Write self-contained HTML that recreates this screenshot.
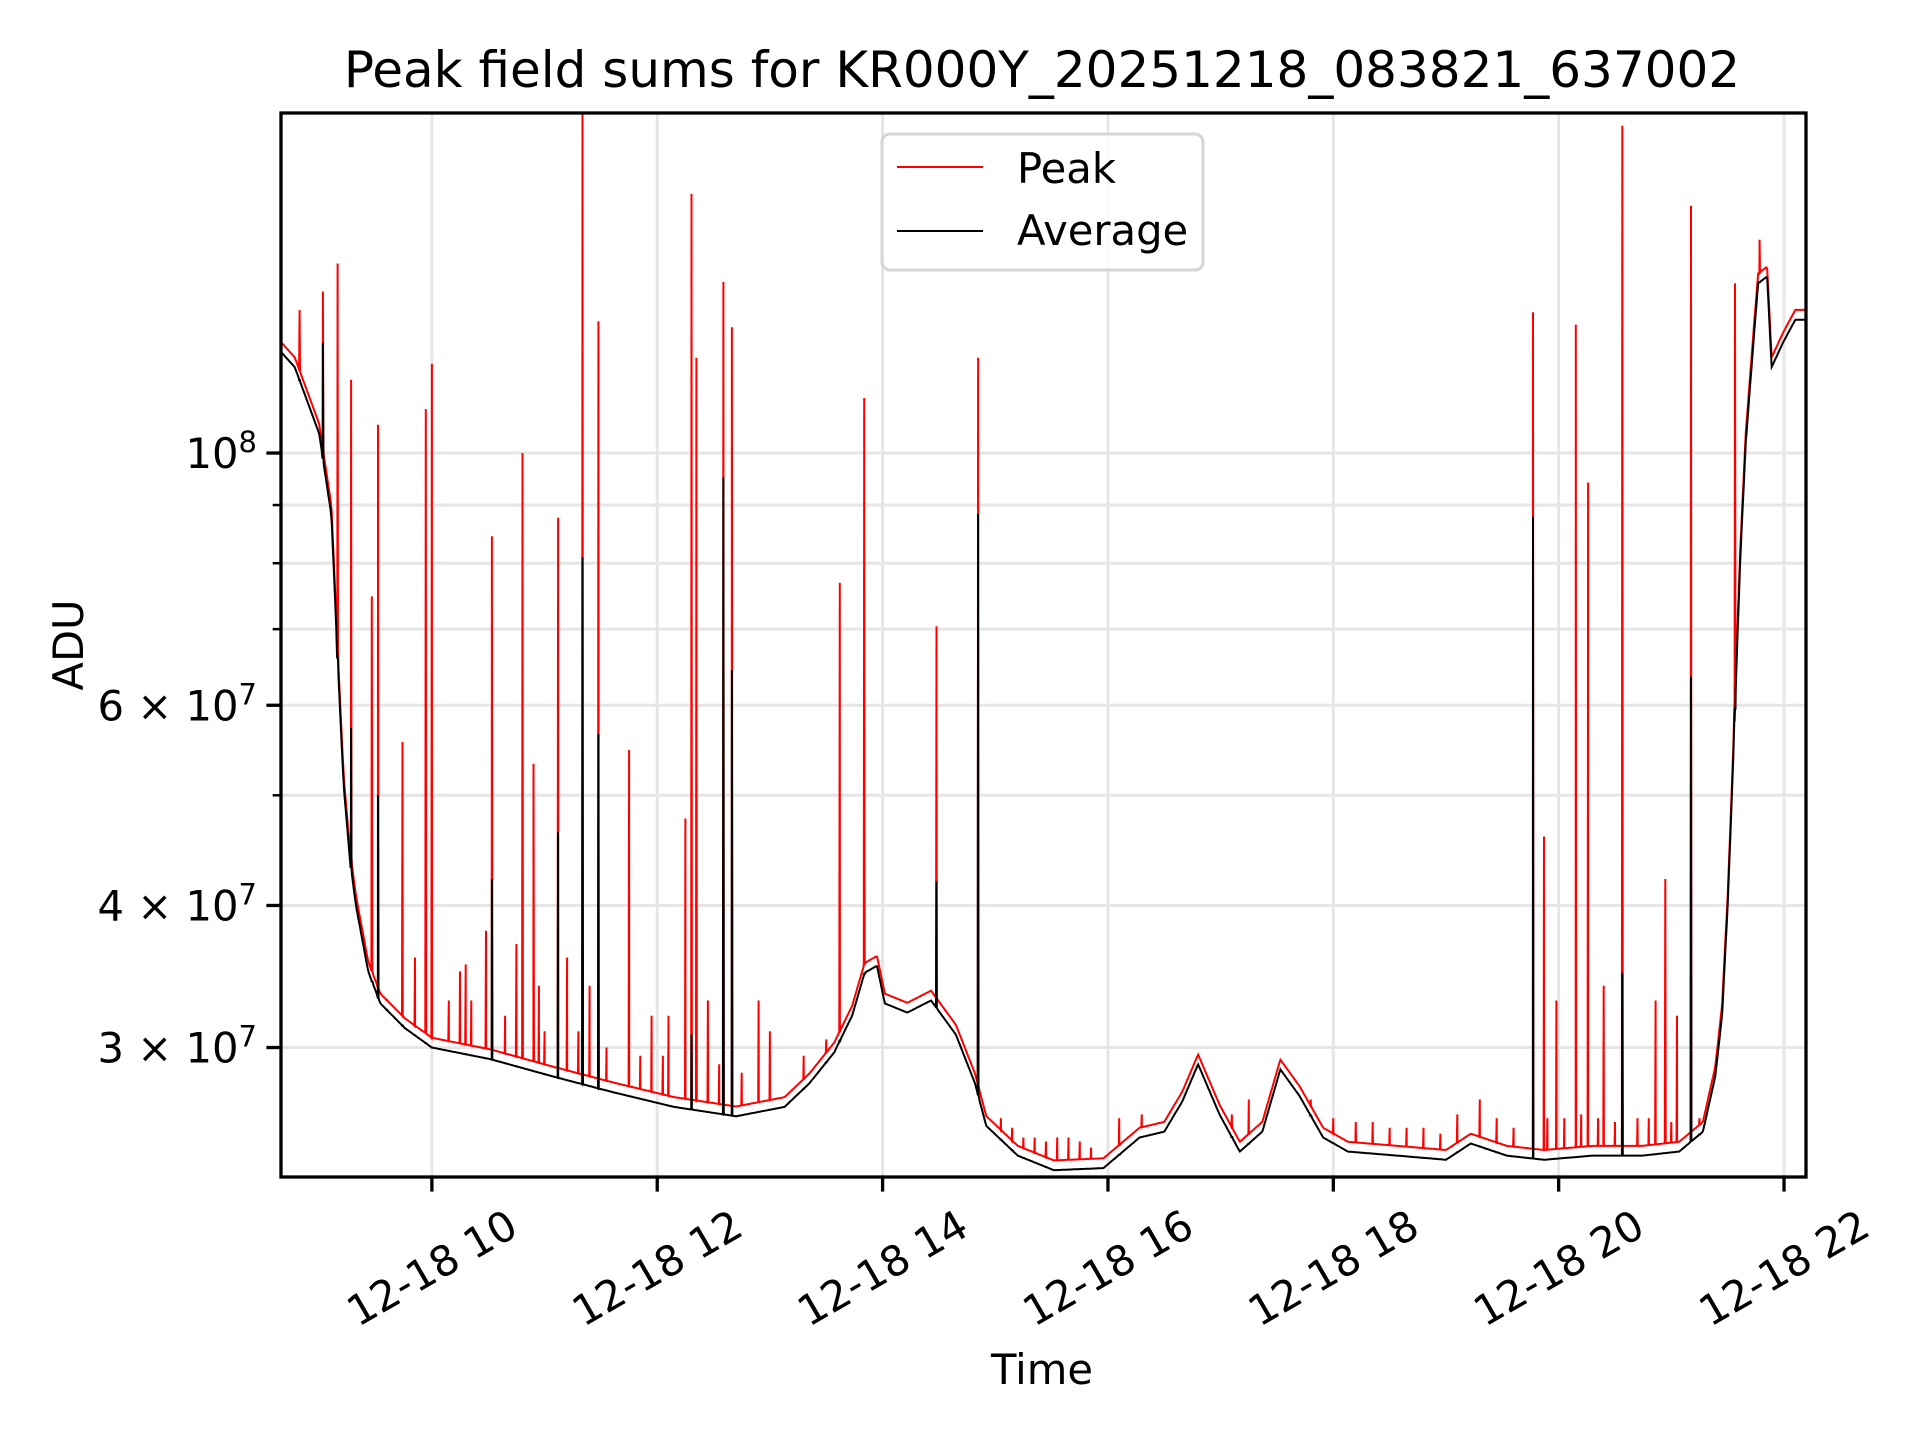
<!DOCTYPE html>
<html><head><meta charset="utf-8">
<style>
html,body{margin:0;padding:0;background:#fff;}
svg{display:block;font-family:"DejaVu Sans","Liberation Sans",sans-serif;}
</style></head>
<body>
<svg id="chart" width="1920" height="1440" viewBox="0 0 1920 1440" xmlns="http://www.w3.org/2000/svg">
<rect x="0" y="0" width="1920" height="1440" fill="#fff"/>
<g id="grid"></g>
<g id="plot"></g>
<g id="axes"></g>
<text x="1042" y="87" font-size="50" text-anchor="middle">Peak field sums for KR000Y_20251218_083821_637002</text>
<text x="1042" y="1384" font-size="41.7" text-anchor="middle">Time</text>
<text transform="translate(83,645) rotate(-90)" font-size="41.7" text-anchor="middle">ADU</text>
<g>
<rect x="882" y="134" width="321" height="136" rx="8" fill="#fff" fill-opacity="0.8" stroke="#d6d6d6" stroke-width="3"/>
<line x1="897" y1="167" x2="983" y2="167" stroke="#ff0000" stroke-width="2"/>
<text x="1017" y="183" font-size="41.7">Peak</text>
<line x1="897" y1="231" x2="983" y2="231" stroke="#000" stroke-width="2"/>
<text x="1017" y="245" font-size="41.7">Average</text>
</g>
</svg>
<script>
// Baseline average series (hours, ADU)
const baseTimes = [8.652,8.783,9.0,9.109,9.163,9.217,9.272,9.326,9.435,9.543,9.761,10.0,10.52,11.07,11.61,12.15,12.70,13.13,13.35,13.57,13.73,13.84,13.95,14.02,14.22,14.43,14.65,14.82,14.92,15.20,15.52,15.96,16.28,16.50,16.66,16.80,16.99,17.17,17.37,17.53,17.70,17.91,18.13,18.57,19.0,19.22,19.54,19.87,20.30,20.74,21.07,21.28,21.39,21.45,21.50,21.55,21.61,21.66,21.72,21.77,21.85,21.89,21.99,22.10,22.20];
const baseAvg = [1.23e8,1.19e8,1.04e8,8.8e7,6.6e7,5.1e7,4.4e7,4.0e7,3.5e7,3.28e7,3.12e7,3.0e7,2.93e7,2.83e7,2.74e7,2.66e7,2.61e7,2.66e7,2.79e7,2.97e7,3.2e7,3.49e7,3.54e7,3.28e7,3.22e7,3.3e7,3.08e7,2.79e7,2.56e7,2.41e7,2.34e7,2.35e7,2.5e7,2.53e7,2.69e7,2.9e7,2.62e7,2.43e7,2.53e7,2.87e7,2.72e7,2.5e7,2.43e7,2.41e7,2.39e7,2.47e7,2.41e7,2.39e7,2.41e7,2.41e7,2.43e7,2.53e7,2.83e7,3.2e7,4.0e7,5.4e7,8.0e7,1.02e8,1.22e8,1.41e8,1.43e8,1.19e8,1.25e8,1.31e8,1.31e8];
const peakRatio = 1.02;
// Spikes: time, peak value, average value (0 = use baseline)
const spikeTimes = [8.826,9.033,9.163,9.283,9.467,9.522,9.739,9.85,9.946,10.0,10.25,10.3,10.35,10.48,10.533,10.75,10.804,10.902,10.95,11.12,11.2,11.337,11.4,11.478,11.75,11.95,12.1,12.25,12.304,12.348,12.45,12.587,12.663,12.9,13.0,13.62,13.837,14.478,14.848,19.772,19.87,19.98,20.152,20.261,20.40,20.565,20.86,20.946,21.05,21.174,21.565,21.783];
const spikePeak = [1.336e8,1.387e8,1.468e8,1.16e8,7.48e7,1.059e8,5.57e7,3.6e7,1.093e8,1.198e8,3.5e7,3.55e7,3.3e7,3.8e7,8.45e7,3.7e7,1.0e8,5.33e7,3.4e7,8.77e7,3.6e7,1.99e8,3.4e7,1.306e8,5.48e7,3.2e7,3.2e7,4.77e7,1.69e8,1.213e8,3.3e7,1.414e8,1.29e8,3.3e7,3.1e7,7.69e7,1.118e8,7.04e7,1.213e8,1.33e8,4.6e7,3.3e7,1.297e8,9.42e7,3.4e7,1.94e8,3.3e7,4.22e7,3.2e7,1.65e8,1.41e8,1.54e8];
const spikeAvg = [0,1.25e8,0,5.73e7,0,5.0e7,0,0,0,0,0,0,0,0,4.22e7,0,0,0,0,4.64e7,0,8.1e7,0,5.66e7,0,0,0,0,3.08e7,0,0,9.52e7,6.44e7,0,0,0,0,4.2e7,8.84e7,8.79e7,0,0,0,0,0,3.49e7,0,0,0,6.36e7,0,0];
// Small noise spikes on the peak series: time, peak value
const minorTimes = [9.6,10.15,10.65,11.0,11.3,11.55,11.85,12.05,12.55,12.75,13.3,13.5,15.05,15.15,15.25,15.35,15.45,15.55,15.65,15.75,15.85,16.1,16.3,17.1,17.25,17.8,18.0,18.2,18.35,18.5,18.65,18.8,18.95,19.1,19.3,19.45,19.6,19.9,20.05,20.2,20.35,20.5,20.7,20.8,21.0,21.25];
const minorPeak = [3.3e7,3.3e7,3.2e7,3.1e7,3.1e7,3.0e7,2.95e7,2.95e7,2.9e7,2.85e7,2.95e7,3.05e7,2.6e7,2.55e7,2.5e7,2.5e7,2.48e7,2.5e7,2.5e7,2.48e7,2.45e7,2.6e7,2.62e7,2.62e7,2.7e7,2.7e7,2.6e7,2.58e7,2.58e7,2.55e7,2.55e7,2.55e7,2.52e7,2.62e7,2.7e7,2.6e7,2.55e7,2.6e7,2.6e7,2.62e7,2.6e7,2.58e7,2.6e7,2.6e7,2.58e7,2.6e7];
const majorTickHours = [10,12,14,16,18,20,22];
const majorTickLabels = ["12-18 10","12-18 12","12-18 14","12-18 16","12-18 18","12-18 20","12-18 22"];
const yMajorVals = [3e7,4e7,6e7,1e8];
const yMajorMant = ["3","4","6",""];
const yMajorExp = ["7","7","7","8"];
const yMinorVals = [5e7,7e7,8e7,9e7];

const NS="http://www.w3.org/2000/svg";
const L=281,R=1806,T=113,B=1177;
const X0=8.661,X1=22.195,Y0=2.308e7,Y1=1.991e8;
function xS(h){return L+(h-X0)/(X1-X0)*(R-L);}
function yS(v){return B-(Math.log10(v)-Math.log10(Y0))/(Math.log10(Y1)-Math.log10(Y0))*(B-T);}
function mk(tag,attrs,parent){const e=document.createElementNS(NS,tag);for(const k in attrs)e.setAttribute(k,attrs[k]);parent.appendChild(e);return e;}
function baseAt(h){
  if(h<=baseTimes[0])return baseAvg[0];
  for(let i=1;i<baseTimes.length;i++){if(h<=baseTimes[i]){const f=(h-baseTimes[i-1])/(baseTimes[i]-baseTimes[i-1]);return Math.exp(Math.log(baseAvg[i-1])*(1-f)+Math.log(baseAvg[i])*f);}}
  return baseAvg[baseAvg.length-1];
}
const grid=document.getElementById('grid'),plot=document.getElementById('plot'),axes=document.getElementById('axes');
majorTickHours.forEach(h=>{const g=mk('line',{x1:xS(h),x2:xS(h),y1:T,y2:B,stroke:'#e6e6e6','stroke-width':3},grid);

});
yMajorVals.concat(yMinorVals).forEach(v=>{const g=mk('line',{x1:L,x2:R,y1:yS(v),y2:yS(v),stroke:'#e6e6e6','stroke-width':3},grid);

});
const d=0.004;
let pts=[];
for(let h=X0;h<=X1;h+=0.01){pts.push({h:h,a:baseAt(h),p:baseAt(h)*peakRatio});}
spikeTimes.forEach((t,i)=>{const b=baseAt(t);const av=spikeAvg[i]||b;
pts.push({h:t-d,a:b,p:b*peakRatio});pts.push({h:t,a:av,p:spikePeak[i]});pts.push({h:t+d,a:b,p:b*peakRatio});});
minorTimes.forEach((t,i)=>{const b=baseAt(t);
pts.push({h:t-d,a:b,p:b*peakRatio});pts.push({h:t,a:b,p:Math.max(minorPeak[i],b*peakRatio)});pts.push({h:t+d,a:b,p:b*peakRatio});});
pts.sort((a,b)=>a.h-b.h);
const cp=mk('clipPath',{id:'clip'},plot);mk('rect',{x:L,y:T,width:R-L,height:B-T},cp);
const peakLine=mk('polyline',{points:pts.map(q=>xS(q.h).toFixed(1)+','+yS(q.p).toFixed(1)).join(' '),fill:'none',stroke:'#ff0000','stroke-width':2,'clip-path':'url(#clip)'},plot);


const avgLine=mk('polyline',{points:pts.map(q=>xS(q.h).toFixed(1)+','+yS(q.a).toFixed(1)).join(' '),fill:'none',stroke:'#000','stroke-width':2,'clip-path':'url(#clip)'},plot);


const sp=mk('rect',{x:L,y:T,width:R-L,height:B-T,fill:'none',stroke:'#000','stroke-width':3.3},axes);


majorTickHours.forEach((h,i)=>{const x=xS(h);
const tk=mk('line',{x1:x,x2:x,y1:B,y2:B+14.6,stroke:'#000','stroke-width':3.3},axes);


const t=mk('text',{transform:'translate('+x+',1268) rotate(-30)','font-size':41.7,'text-anchor':'middle','dominant-baseline':'central'},axes);
t.textContent=majorTickLabels[i];

});
yMajorVals.forEach((v,i)=>{const y=yS(v);
const tk=mk('line',{x1:L-14.6,x2:L,y1:y,y2:y,stroke:'#000','stroke-width':3.3},axes);


const t=mk('text',{x:257,y:y+15,'font-size':41.7,'text-anchor':'end'},axes);


const m=yMajorMant[i]?yMajorMant[i]+' \u00d7 10':'10';
const s1=mk('tspan',{},t);s1.textContent=m;
const s2=mk('tspan',{dy:-16,'font-size':29},t);s2.textContent=yMajorExp[i];});
yMinorVals.forEach(v=>{const y=yS(v);
const tk=mk('line',{x1:L-8.3,x2:L,y1:y,y2:y,stroke:'#000','stroke-width':2.5},axes);

});
</script>
</body></html>
